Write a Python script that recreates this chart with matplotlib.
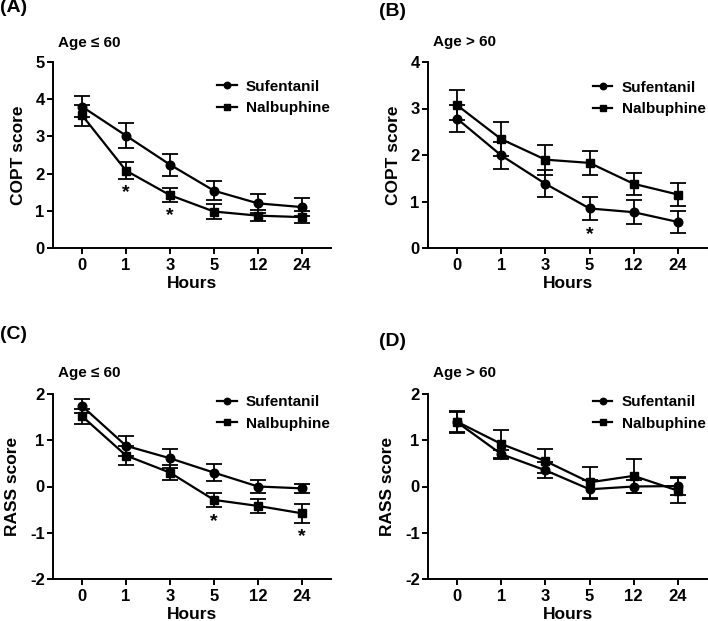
import matplotlib
matplotlib.use("Agg")
import matplotlib.pyplot as plt
import numpy as np

plt.rcParams['font.family'] = ['Liberation Sans', 'DejaVu Sans']
plt.rcParams['font.weight'] = 'bold'
plt.rcParams['axes.unicode_minus'] = False

hours = ["0", "1", "3", "5", "12", "24"]
series_names = ["Sufentanil", "Nalbuphine"]

# Panel A: COPT, Age <= 60
a_suf = [3.80, 3.02, 2.24, 1.54, 1.20, 1.10]
a_suf_err = [0.28, 0.33, 0.30, 0.25, 0.25, 0.25]
a_nal = [3.57, 2.08, 1.42, 0.98, 0.87, 0.83]
a_nal_err = [0.28, 0.22, 0.18, 0.20, 0.15, 0.17]
a_stars = [1, 3]

# Panel B: COPT, Age > 60
b_suf = [2.78, 1.99, 1.38, 0.85, 0.77, 0.56]
b_suf_err = [0.29, 0.29, 0.29, 0.25, 0.26, 0.23]
b_nal = [3.07, 2.34, 1.90, 1.83, 1.38, 1.15]
b_nal_err = [0.32, 0.36, 0.32, 0.25, 0.24, 0.24]
b_stars = [5]

# Panel C: RASS, Age <= 60
c_suf = [1.74, 0.88, 0.61, 0.30, 0.00, -0.04]
c_suf_err = [0.16, 0.21, 0.21, 0.19, 0.14, 0.10]
c_nal = [1.52, 0.67, 0.30, -0.29, -0.42, -0.58]
c_nal_err = [0.16, 0.20, 0.17, 0.16, 0.16, 0.20]
c_stars = [5, 24]

# Panel D: RASS, Age > 60
d_suf = [1.39, 0.70, 0.35, -0.06, 0.00, 0.01]
d_suf_err = [0.23, 0.10, 0.17, 0.20, 0.13, 0.20]
d_nal = [1.40, 0.92, 0.55, 0.09, 0.23, -0.09]
d_nal_err = [0.23, 0.30, 0.26, 0.34, 0.37, 0.27]
d_stars = []

panels = [
    dict(label="(A)", title="Age \u2264 60", ylabel="COPT score", ylim=(0, 5), yticks=[0, 1, 2, 3, 4, 5],
         suf=a_suf, suf_err=a_suf_err, nal=a_nal, nal_err=a_nal_err, stars=a_stars,
         rect=[53/708, 1-248/621, 278/708, 186/621], lab_xy=(0/708, 1-8/621), tit_xy=(58/708, 1-43/621),
         leg_y=0.905),
    dict(label="(B)", title="Age > 60", ylabel="COPT score", ylim=(0, 4), yticks=[0, 1, 2, 3, 4],
         suf=b_suf, suf_err=b_suf_err, nal=b_nal, nal_err=b_nal_err, stars=b_stars,
         rect=[428/708, 1-248/621, 279/708, 186/621], lab_xy=(379/708, 1-11/621), tit_xy=(433/708, 1-42/621),
         leg_y=0.90),
    dict(label="(C)", title="Age \u2264 60", ylabel="RASS score", ylim=(-2, 2), yticks=[-2, -1, 0, 1, 2],
         suf=c_suf, suf_err=c_suf_err, nal=c_nal, nal_err=c_nal_err, stars=c_stars,
         rect=[53/708, 1-579/621, 278/708, 185/621], lab_xy=(0/708, 1-335/621), tit_xy=(58/708, 1-373/621),
         leg_y=0.995),
    dict(label="(D)", title="Age > 60", ylabel="RASS score", ylim=(-2, 2), yticks=[-2, -1, 0, 1, 2],
         suf=d_suf, suf_err=d_suf_err, nal=d_nal, nal_err=d_nal_err, stars=d_stars,
         rect=[428/708, 1-579/621, 279/708, 185/621], lab_xy=(379/708, 1-342/621), tit_xy=(433/708, 1-373/621),
         leg_y=0.995),
]

fig = plt.figure(figsize=(7.08, 6.21), dpi=100)
x = np.arange(len(hours))

for p in panels:
    ax = fig.add_axes(p["rect"])
    c1 = ax.errorbar(x, p["suf"], yerr=p["suf_err"], color="black", marker="o", markersize=6.2,
                     linewidth=1.6, elinewidth=1.3, capsize=5.5, capthick=1.3, label=series_names[0], clip_on=False)
    c2 = ax.errorbar(x, p["nal"], yerr=p["nal_err"], color="black", marker="s", markersize=6.2,
                     linewidth=1.6, elinewidth=1.3, capsize=5.5, capthick=1.3, label=series_names[1], clip_on=False)
    for s in p["stars"]:
        i = hours.index(str(s))
        low = min(p["suf"][i] - p["suf_err"][i], p["nal"][i] - p["nal_err"][i])
        ax.annotate("*", xy=(i, low), xytext=(0, -4), textcoords="offset points",
                    ha="center", va="top", fontsize=14, fontweight="bold")
    ax.set_xlim(-0.66, 5.66)
    ax.set_ylim(*p["ylim"])
    ax.set_yticks(p["yticks"])
    ax.set_xticks(x)
    ax.set_xticklabels(hours)
    ax.spines["top"].set_visible(False)
    ax.spines["right"].set_visible(False)
    for sp in ["left", "bottom"]:
        ax.spines[sp].set_linewidth(1.4)
    ax.tick_params(axis="both", direction="out", length=4.5, width=1.4, labelsize=12)
    ax.tick_params(axis="x", pad=3)
    ax.tick_params(axis="y", pad=1.5)
    for lbl in ax.get_xticklabels() + ax.get_yticklabels():
        lbl.set_fontweight("bold")
    ax.set_xlabel("Hours", fontsize=12.5, fontweight="bold", labelpad=2)
    ax.set_ylabel(p["ylabel"], fontsize=12.5, fontweight="bold", labelpad=7)
    leg = ax.legend(handles=[c1.lines[0], c2.lines[0]], labels=series_names,
                    loc="upper left", bbox_to_anchor=(0.59, p["leg_y"]), frameon=False,
                    fontsize=11, borderpad=0, borderaxespad=0, handlelength=1.3,
                    handletextpad=0.6, labelspacing=0.5, markerscale=0.75)
    for t in leg.get_texts():
        t.set_fontweight("bold")
    fig.text(p["lab_xy"][0], p["lab_xy"][1], p["label"], fontsize=14, fontweight="bold",
             ha="left", va="center")
    fig.text(p["tit_xy"][0], p["tit_xy"][1], p["title"], fontsize=11, fontweight="bold",
             ha="left", va="center")

fig.savefig("out.png", dpi=100)
